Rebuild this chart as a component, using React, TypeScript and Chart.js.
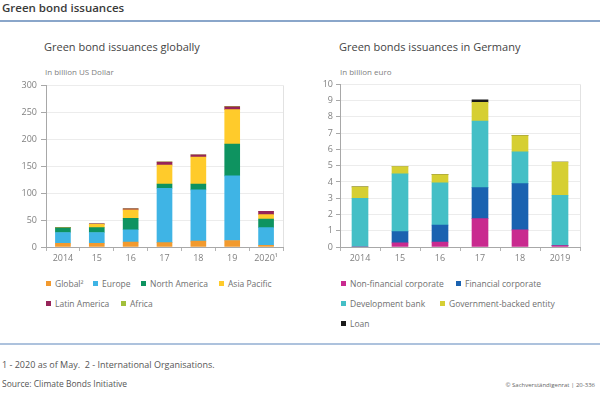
import React, { useEffect, useRef } from 'react';
import { Chart, registerables } from 'chart.js';

Chart.register(...registerables);

const FONT = '"Open Sans", "DejaVu Sans", sans-serif';

// ---- Left chart: Green bond issuances globally (billion US Dollar)
const globalYears = ['2014', '15', '16', '17', '18', '19', '2020¹'];
const globalIntl = [7, 7, 9, 8, 11, 12, 3];
const europe = [20, 20, 23, 101, 95, 120, 33];
const northAmerica = [8.5, 9, 21, 8, 11, 59, 16];
const asiaPacific = [0.5, 6, 16, 35, 50, 64, 8];
const latinAmerica = [0.5, 1, 2, 5.5, 4, 5, 6];
const africa = [0, 0, 0.3, 0.5, 0.3, 1, 0.3];
const globalTicks = [0, 50, 100, 150, 200, 250, 300];

// ---- Right chart: Green bonds issuances in Germany (billion euro)
const germanYears = ['2014', '15', '16', '17', '18', '2019'];
const nonFinancial = [0, 0.25, 0.3, 1.75, 1.05, 0.08];
const financial = [0, 0.7, 1.05, 1.9, 2.85, 0];
const developmentBank = [3.0, 3.55, 2.6, 4.1, 1.95, 3.1];
const governmentBacked = [0.7, 0.45, 0.5, 1.15, 1.0, 2.05];
const loan = [0, 0, 0, 0.15, 0, 0];
const germanTicks = [0, 1, 2, 3, 4, 5, 6, 7, 8, 9, 10];

type Series = { name: string; data: number[]; color: string };

const globalSeries: Series[] = [
  { name: 'Global²', data: globalIntl, color: '#f29a2e' },
  { name: 'Europe', data: europe, color: '#3fb4e5' },
  { name: 'North America', data: northAmerica, color: '#0e9360' },
  { name: 'Asia Pacific', data: asiaPacific, color: '#ffcb2b' },
  { name: 'Latin America', data: latinAmerica, color: '#962459' },
  { name: 'Africa', data: africa, color: '#a2bf3a' },
];

const germanSeries: Series[] = [
  { name: 'Non-financial corporate', data: nonFinancial, color: '#c92a8f' },
  { name: 'Financial corporate', data: financial, color: '#1a62b0' },
  { name: 'Development bank', data: developmentBank, color: '#44bfc6' },
  { name: 'Government-backed entity', data: governmentBacked, color: '#d6cf33' },
  { name: 'Loan', data: loan, color: '#1a1a1a' },
];

const borderPlugin = {
  id: 'rightBorder',
  afterDraw(chart: any) {
    const { ctx, chartArea } = chart;
    ctx.save();
    ctx.strokeStyle = '#e2e2e2';
    ctx.lineWidth = 1;
    const x = Math.round(chartArea.right) + 0.5;
    ctx.beginPath();
    ctx.moveTo(x, chartArea.top);
    ctx.lineTo(x, chartArea.bottom);
    ctx.stroke();
    ctx.restore();
  },
};

type BarProps = {
  labels: string[];
  series: Series[];
  ticks: number[];
  left: number;
  top: number;
  width: number;
  height: number;
  padding: { left: number; right: number; top: number; bottom: number };
  barThickness: number;
  tickLength: number;
  tickPadding: number;
};

function StackedBars(p: BarProps) {
  const ref = useRef<HTMLCanvasElement | null>(null);
  useEffect(() => {
    if (!ref.current) return;
    const chart = new Chart(ref.current, {
      type: 'bar',
      data: {
        labels: p.labels,
        datasets: p.series.map((s) => ({
          label: s.name,
          data: s.data,
          backgroundColor: s.color,
          borderWidth: 0,
          barThickness: p.barThickness,
        })),
      },
      options: {
        animation: false,
        responsive: false,
        maintainAspectRatio: false,
        layout: { padding: p.padding },
        plugins: { legend: { display: false }, tooltip: { enabled: false }, title: { display: false } },
        scales: {
          x: {
            stacked: true,
            afterFit: (s: any) => {
              s.height = 20;
            },
            grid: { display: true, drawOnChartArea: false, tickLength: 4, tickColor: '#b5b5b5', offset: true },
            border: { color: '#a8a8a8' },
            ticks: { color: '#808080', font: { family: FONT, size: 9 }, padding: 2, maxRotation: 0, autoSkip: false },
          },
          y: {
            stacked: true,
            min: p.ticks[0],
            max: p.ticks[p.ticks.length - 1],
            afterFit: (s: any) => {
              s.width = 40;
            },
            afterBuildTicks: (s: any) => {
              s.ticks = p.ticks.map((v) => ({ value: v }));
            },
            grid: { color: '#ececec', tickLength: p.tickLength, tickColor: '#a8a8a8' },
            border: { color: '#a8a8a8' },
            ticks: { color: '#808080', font: { family: FONT, size: 9 }, padding: p.tickPadding },
          },
        },
      },
      plugins: [borderPlugin],
    });
    return () => chart.destroy();
  }, []);
  return (
    <canvas
      ref={ref}
      width={p.width}
      height={p.height}
      style={{ position: 'absolute', left: p.left, top: p.top, width: p.width, height: p.height }}
    />
  );
}

function Legend({ series, positions }: { series: Series[]; positions: [number, number][] }) {
  return (
    <>
      {series.map((s, i) => (
        <div
          key={s.name}
          style={{
            position: 'absolute',
            left: positions[i][0],
            top: positions[i][1] - 6,
            height: 12,
            display: 'flex',
            alignItems: 'center',
            whiteSpace: 'nowrap',
            fontFamily: FONT,
            fontSize: 8.5,
            color: '#707070',
          }}
        >
          <span style={{ display: 'inline-block', width: 5, height: 5, background: s.color, marginRight: 4 }} />
          {s.name}
        </div>
      ))}
    </>
  );
}

const text = (extra: React.CSSProperties): React.CSSProperties => ({
  position: 'absolute',
  fontFamily: FONT,
  whiteSpace: 'nowrap',
  ...extra,
});

export default function App() {
  return (
    <div style={{ position: 'fixed', left: 0, top: 0, width: 600, height: 400, background: '#fff', overflow: 'hidden' }}>
      <div style={text({ left: 2, top: 1, fontSize: 11.5, fontWeight: 600, color: '#3a3a3a', lineHeight: '14px' })}>
        Green bond issuances
      </div>
      <div style={{ position: 'absolute', left: 0, top: 20, width: 600, height: 2, background: '#8aa6ca' }} />

      <div style={text({ left: 44, top: 40, fontSize: 11, color: '#444', lineHeight: '14px' })}>
        Green bond issuances globally
      </div>
      <div style={text({ left: 45, top: 67, fontSize: 8, color: '#808080', lineHeight: '10px' })}>In billion US Dollar</div>

      <div style={text({ left: 339, top: 40, fontSize: 11, color: '#444', lineHeight: '14px' })}>
        Green bonds issuances in Germany
      </div>
      <div style={text({ left: 340, top: 67, fontSize: 8, color: '#808080', lineHeight: '10px' })}>In billion euro</div>

      <StackedBars
        labels={globalYears}
        series={globalSeries}
        ticks={globalTicks}
        left={0}
        top={76}
        width={300}
        height={200}
        padding={{ left: 6, right: 17, top: 8, bottom: 9 }}
        barThickness={15}
        tickLength={5}
        tickPadding={4}
      />
      <StackedBars
        labels={germanYears}
        series={germanSeries}
        ticks={germanTicks}
        left={300}
        top={76}
        width={300}
        height={200}
        padding={{ left: 0, right: 20, top: 7, bottom: 9 }}
        barThickness={16}
        tickLength={4}
        tickPadding={3}
      />

      <Legend
        series={globalSeries}
        positions={[
          [46, 283],
          [93, 283],
          [141, 283],
          [219, 283],
          [46, 303],
          [121, 303],
        ]}
      />
      <Legend
        series={germanSeries}
        positions={[
          [341, 283],
          [456, 283],
          [341, 303],
          [440, 303],
          [341, 323],
        ]}
      />

      <div style={{ position: 'absolute', left: 0, top: 343, width: 600, height: 2, background: '#adc2dd' }} />
      <div style={text({ left: 2, top: 359, fontSize: 9, color: '#555', lineHeight: '11px' })}>
        1 - 2020 as of May.&nbsp;&nbsp;2 - International Organisations.
      </div>
      <div style={text({ left: 2, top: 378, fontSize: 8.5, color: '#555', lineHeight: '11px' })}>
        Source: Climate Bonds Initiative
      </div>
      <div style={text({ right: 5, top: 381, fontSize: 6, color: '#666', lineHeight: '9px' })}>
        © Sachverständigenrat | 20-336
      </div>
    </div>
  );
}
